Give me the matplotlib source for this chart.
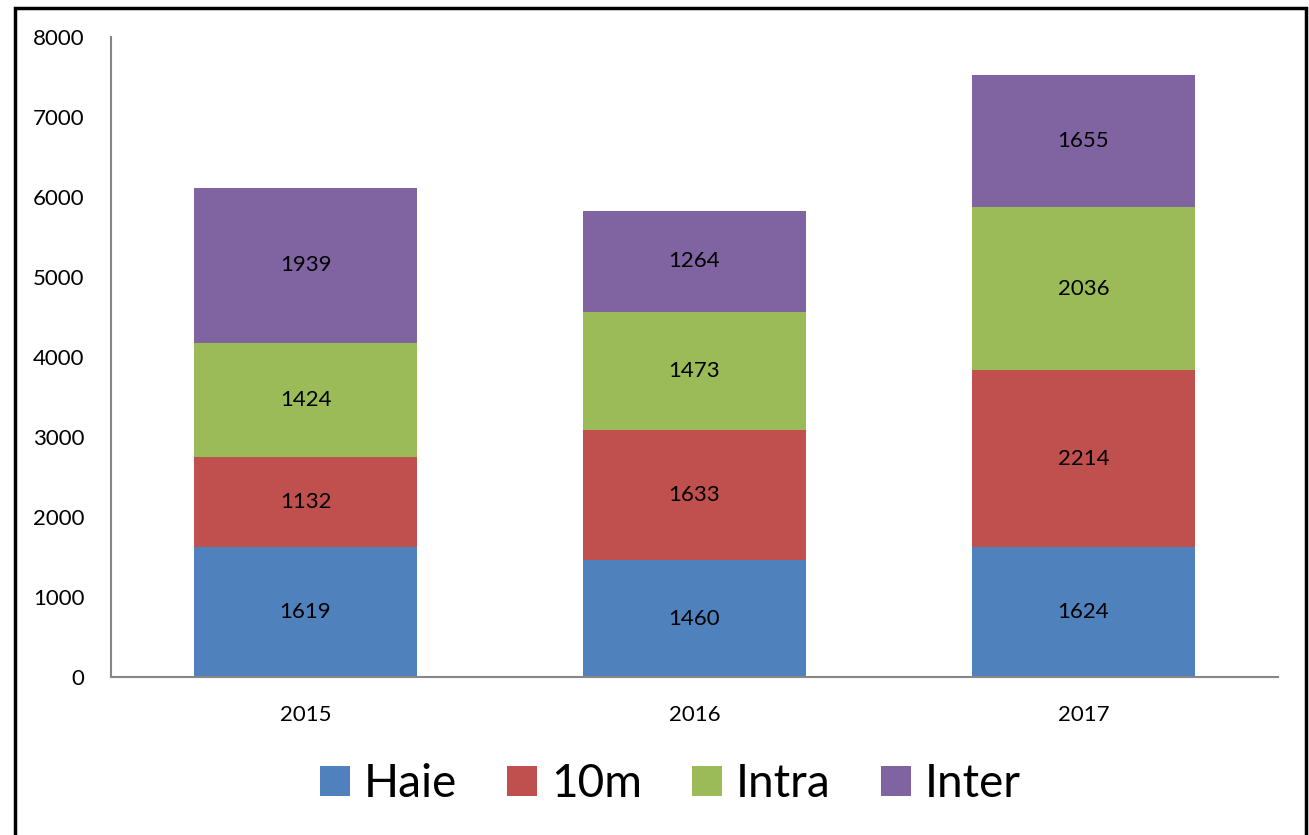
import matplotlib

matplotlib.use("Agg")
import matplotlib.pyplot as plt
from matplotlib.patches import Rectangle
import numpy as np

years = ["2015", "2016", "2017"]
series = ["Haie", "10m", "Intra", "Inter"]
haie = [1619, 1460, 1624]
tenm = [1132, 1633, 2214]
intra = [1424, 1473, 2036]
inter = [1939, 1264, 1655]
colors = ["#4F81BD", "#C0504D", "#9BBB59", "#8064A2"]

plt.rcParams["font.family"] = ["Lato", "DejaVu Sans"]

W, H = 1309, 835
fig = plt.figure(figsize=(W / 100, H / 100), dpi=100)
ax = fig.add_axes([111 / W, 1 - 677 / H, (1278 - 111) / W, (677 - 37) / H])

x = np.arange(len(years))
bottom = np.zeros(len(years))
for name, vals, c in zip(series, [haie, tenm, intra, inter], colors):
    vals = np.array(vals, dtype=float)
    ax.bar(x, vals, 0.571, bottom=bottom, color=c, label=name)
    for xi, b, v in zip(x, bottom, vals):
        ax.text(xi, b + v / 2, f"{int(v)}", ha="center", va="center", fontsize=16)
    bottom += vals

ax.set_xlim(-0.5, 2.5)
ax.set_ylim(0, 8000)
ax.set_yticks(range(0, 8001, 1000))
ax.set_xticks(x)
ax.set_xticklabels(years)
ax.tick_params(axis="both", length=0, labelsize=16)
ax.tick_params(axis="y", pad=19)
ax.tick_params(axis="x", pad=20)
for s in ["top", "right"]:
    ax.spines[s].set_visible(False)
for s in ["left", "bottom"]:
    ax.spines[s].set_color("#868686")
    ax.spines[s].set_linewidth(1.5)

leg = fig.legend(loc="center", bbox_to_anchor=(0.512, 1 - 784 / H), ncol=4,
                 frameon=False, fontsize=33, handlelength=0.65, handleheight=0.65,
                 handletextpad=0.3, columnspacing=1.1)

# outer frame around the chart
fig.patches.append(Rectangle((15 / W, -0.05), (1306 - 15) / W, 1.05 - 8 / H,
                             transform=fig.transFigure, fill=False,
                             edgecolor="black", linewidth=2.5))

fig.savefig("out.png", dpi=100)
